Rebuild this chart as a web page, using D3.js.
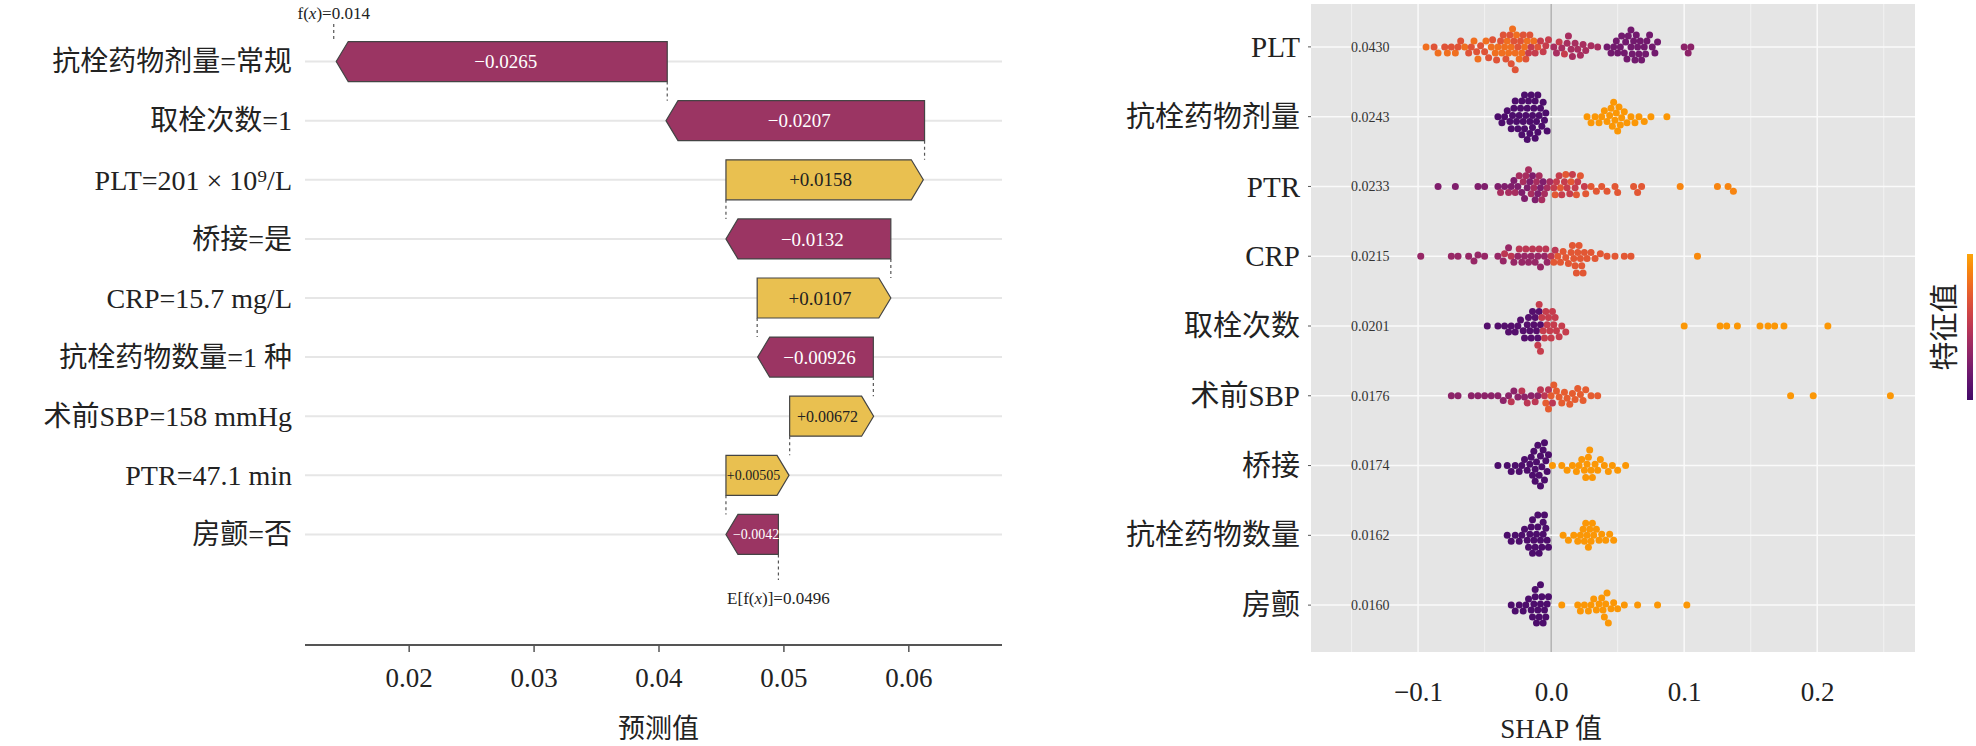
<!DOCTYPE html>
<html><head><meta charset="utf-8">
<script src="https://cdn.jsdelivr.net/npm/d3@7"></script>
<style>body{margin:0;background:#fff}text{font-family:"Liberation Serif","Noto Sans CJK SC",serif}</style>
</head><body><svg id="c" width="1976" height="746"></svg>
<script>
// waterfall data
const wfLabels = ["抗栓药物剂量=常规","取栓次数=1","PLT=201 × 10⁹/L","桥接=是","CRP=15.7 mg/L","抗栓药物数量=1 种","术前SBP=158 mmHg","PTR=47.1 min","房颤=否"]
const wfBase = [0.0407,0.0613,0.0454,0.0586,0.0479,0.0572,0.0505,0.0454,0.0496]
const wfValue = [-0.0265,-0.0207,0.0158,-0.0132,0.0107,-0.00926,0.00672,0.00505,-0.0042]
const wfText = ["−0.0265","−0.0207","+0.0158","−0.0132","+0.0107","−0.00926","+0.00672","+0.00505","−0.0042"]
const fx = 0.014, efx = 0.0496
const wfTicks = [0.02,0.03,0.04,0.05,0.06]

// beeswarm data: per feature, groups of [feature value, shap values]
const bsLabels = ["PLT","抗栓药物剂量","PTR","CRP","取栓次数","术前SBP","桥接","抗栓药物数量","房颤"]
const bsImportance = ["0.0430","0.0243","0.0233","0.0215","0.0201","0.0176","0.0174","0.0162","0.0160"]
const bsTicks = [-0.1,0,0.1,0.2]
const bsData = [
 [[0.8,[-0.094,-0.085,-0.078,-0.072,-0.065,-0.058,-0.055,-0.049,-0.045,-0.042,-0.04,-0.037,-0.035,-0.033,-0.032,-0.03,-0.029,-0.027,-0.026,-0.024,-0.022,-0.02,-0.018,-0.013]],
  [0.68,[-0.088,-0.08,-0.075,-0.07,-0.068,-0.062,-0.06,-0.056,-0.053,-0.05,-0.047,-0.044,-0.041,-0.038,-0.036,-0.034,-0.031,-0.03,-0.028,-0.027,-0.025,-0.023,-0.021,-0.019,-0.016,-0.01]],
  [0.55,[-0.017,-0.015,-0.012,-0.008,-0.006,-0.004,-0.002,0.006,0.01]],
  [0.42,[0.002,0.004,0.008,0.012,0.013,0.015,0.016,0.018,0.02,0.022,0.024,0.026,0.03,0.035]],
  [0.2,[0.042,0.045,0.047,0.049,0.05,0.052,0.053,0.055,0.056,0.057,0.058,0.06,0.06,0.061,0.062,0.063,0.064,0.065,0.066,0.067,0.068,0.07,0.071,0.072,0.074,0.076,0.078,0.08]],
  [0.3,[0.1,0.103,0.105]]],
 [[0.05,[-0.04,-0.037,-0.035,-0.033,-0.031,-0.03,-0.029,-0.028,-0.027,-0.026,-0.025,-0.024,-0.023,-0.022,-0.022,-0.021,-0.02,-0.02,-0.019,-0.018,-0.018,-0.017,-0.016,-0.016,-0.015,-0.014,-0.014,-0.013,-0.012,-0.012,-0.011,-0.01,-0.01,-0.009,-0.008,-0.007,-0.006,-0.005,-0.004,-0.003]],
  [0.95,[0.027,0.03,0.033,0.036,0.038,0.04,0.042,0.044,0.045,0.046,0.047,0.048,0.049,0.05,0.051,0.052,0.053,0.055,0.057,0.06,0.063,0.066,0.07,0.075,0.087]]],
 [[0.25,[-0.085,-0.072,-0.055,-0.05,-0.04,-0.035,-0.03,-0.028,-0.025,-0.022,-0.02,-0.018,-0.016,-0.014,-0.012,-0.01,-0.008,-0.006]],
  [0.42,[-0.038,-0.032,-0.027,-0.024,-0.021,-0.019,-0.017,-0.015,-0.013,-0.011,-0.009,-0.007,-0.005,-0.003,-0.001]],
  [0.55,[0.002,0.004,0.006,0.008,0.01,0.012,0.014,0.016,0.018,0.02,0.025]],
  [0.7,[0.003,0.007,0.011,0.015,0.019,0.022,0.026,0.03,0.034,0.038,0.042,0.048,0.05,0.062,0.065,0.068]],
  [0.88,[0.097,0.125,0.133,0.137]]],
 [[0.35,[-0.098,-0.075,-0.07,-0.062,-0.058,-0.055,-0.05,-0.04,-0.036,-0.032,-0.028,-0.025,-0.022,-0.02,-0.017,-0.015,-0.012,-0.01,-0.008,-0.005,-0.003]],
  [0.5,[-0.035,-0.03,-0.024,-0.019,-0.014,-0.009,-0.004,0,0.003]],
  [0.7,[0.002,0.005,0.007,0.009,0.011,0.013,0.015,0.016,0.017,0.018,0.019,0.02,0.021,0.022,0.023,0.024,0.025,0.027,0.03,0.033,0.037,0.042,0.048,0.055,0.06]],
  [0.9,[0.11]]],
 [[0.08,[-0.048,-0.04,-0.035,-0.032,-0.03,-0.027,-0.025,-0.023,-0.021,-0.02,-0.018,-0.017,-0.016,-0.015,-0.014,-0.013,-0.012,-0.011,-0.01,-0.009,-0.008]],
  [0.55,[-0.01,-0.009,-0.008,-0.007,-0.006,-0.005,-0.004,-0.003,-0.002,-0.001,0,0.001,0.002,0.003,0.004,0.006,0.008,0.011]],
  [0.95,[0.1,0.127,0.132,0.14,0.157,0.163,0.168,0.175,0.208]]],
 [[0.3,[-0.075,-0.07,-0.06,-0.055,-0.05,-0.045,-0.04,-0.036,-0.032,-0.028,-0.025,-0.02,-0.015,-0.01]],
  [0.5,[-0.03,-0.022,-0.018,-0.012,-0.008,-0.005,-0.002,0.001]],
  [0.72,[-0.004,-0.002,0,0.002,0.004,0.006,0.008,0.01,0.012,0.014,0.016,0.018,0.02,0.022,0.024,0.026,0.03,0.035]],
  [0.95,[0.18,0.197,0.255]]],
 [[0.05,[-0.04,-0.033,-0.03,-0.027,-0.024,-0.022,-0.02,-0.018,-0.016,-0.015,-0.014,-0.013,-0.012,-0.011,-0.01,-0.009,-0.008,-0.007,-0.006,-0.005,-0.004,-0.003,-0.002,-0.012,-0.008,-0.005]],
  [0.95,[0.001,0.008,0.012,0.016,0.019,0.021,0.023,0.025,0.026,0.027,0.028,0.029,0.03,0.031,0.033,0.035,0.037,0.04,0.043,0.046,0.05,0.056]]],
 [[0.05,[-0.033,-0.03,-0.027,-0.024,-0.022,-0.02,-0.018,-0.017,-0.016,-0.015,-0.014,-0.013,-0.012,-0.011,-0.01,-0.009,-0.008,-0.007,-0.006,-0.005,-0.004,-0.003,-0.002,-0.014,-0.01,-0.006]],
  [0.95,[0.009,0.013,0.017,0.02,0.022,0.024,0.025,0.026,0.027,0.028,0.029,0.03,0.031,0.032,0.034,0.036,0.038,0.041,0.044,0.047]]],
 [[0.05,[-0.03,-0.027,-0.024,-0.021,-0.019,-0.017,-0.015,-0.014,-0.013,-0.012,-0.011,-0.01,-0.009,-0.008,-0.007,-0.006,-0.005,-0.004,-0.003,-0.002,-0.012,-0.008]],
  [0.95,[0.008,0.02,0.022,0.025,0.028,0.03,0.032,0.034,0.036,0.038,0.039,0.04,0.041,0.042,0.043,0.045,0.047,0.05,0.055,0.065,0.08,0.102]]]
]

const svg = d3.select("#c")
const neg = "#9b3563", pos = "#e9c050"

// ---- left: waterfall ----
const x1 = d3.scaleLinear().domain([0.0117, 0.0675]).range([305, 1002])
const y1 = d3.scaleBand().domain(d3.range(wfLabels.length)).range([32, 564]).paddingInner(0)
const bh = 40
svg.append("g").selectAll("line").data(wfLabels).join("line")
  .attr("x1", 305).attr("x2", 1002)
  .attr("y1", (d, i) => y1(i) + y1.bandwidth() / 2).attr("y2", (d, i) => y1(i) + y1.bandwidth() / 2)
  .attr("stroke", "#e6e6e6").attr("stroke-width", 2)
svg.append("g").selectAll("text").data(wfLabels).join("text")
  .attr("x", 292).attr("y", (d, i) => y1(i) + y1.bandwidth() / 2).attr("dy", "0.35em")
  .attr("text-anchor", "end").attr("font-size", 28).attr("fill", "#222").text(d => d)

const tip = 12
wfValue.forEach((v, i) => {
  const cy = y1(i) + y1.bandwidth() / 2, t = cy - bh / 2, b = cy + bh / 2
  const xa = x1(wfBase[i]), xb = x1(wfBase[i] + v)
  const dir = v < 0 ? -1 : 1
  const pts = [[xa, t], [xb - dir * tip, t], [xb, cy], [xb - dir * tip, b], [xa, b]]
  svg.append("path").attr("d", d3.line()(pts) + "Z")
    .attr("fill", v < 0 ? neg : pos).attr("stroke", "#444").attr("stroke-width", 1.2)
  const w = Math.abs(xb - xa)
  svg.append("text").attr("x", (xa + xb) / 2 - dir * tip / 3).attr("y", cy).attr("dy", "0.35em")
    .attr("text-anchor", "middle").attr("font-size", w < 70 ? 14 : (w < 110 ? 16 : 19))
    .attr("fill", v < 0 ? "#fff" : "#222").text(wfText[i])
  // connector to next row
  const ny = i < wfValue.length - 1 ? y1(i + 1) + y1.bandwidth() / 2 - bh / 2 : 580
  svg.append("line").attr("x1", xa).attr("x2", xa).attr("y1", b).attr("y2", ny)
    .attr("stroke", "#555").attr("stroke-dasharray", "3,3").attr("stroke-width", 1.2)
})
svg.append("line").attr("x1", x1(fx)).attr("x2", x1(fx)).attr("y1", 24).attr("y2", y1(0) + y1.bandwidth() / 2 - bh / 2)
  .attr("stroke", "#555").attr("stroke-dasharray", "3,3").attr("stroke-width", 1.2)
const fl = svg.append("text").attr("x", x1(fx)).attr("y", 19).attr("text-anchor", "middle").attr("font-size", 17).attr("fill", "#222")
fl.append("tspan").text("f("); fl.append("tspan").attr("font-style", "italic").text("x"); fl.append("tspan").text(")=0.014")
const el = svg.append("text").attr("x", x1(efx)).attr("y", 604).attr("text-anchor", "middle").attr("font-size", 17).attr("fill", "#222")
el.append("tspan").text("E[f("); el.append("tspan").attr("font-style", "italic").text("x"); el.append("tspan").text(")]=0.0496")

const ax1 = svg.append("g").attr("transform", "translate(0,645)")
  .call(d3.axisBottom(x1).tickValues(wfTicks).tickSize(7).tickPadding(16).tickFormat(d3.format(".2f")))
ax1.select(".domain").attr("stroke", "#555").attr("stroke-width", 2).attr("d", "M305,0H1002")
ax1.selectAll(".tick line").attr("stroke", "#555").attr("stroke-width", 1.5)
ax1.selectAll("text").attr("font-size", 27).attr("fill", "#222").attr("font-family", "Liberation Serif")
svg.append("text").attr("x", x1(0.04)).attr("y", 738).attr("text-anchor", "middle").attr("font-size", 27).attr("fill", "#222").text("预测值")

// ---- right: beeswarm ----
const px0 = 1311, px1 = 1915, py0 = 4, py1 = 652
const x2 = d3.scaleLinear().domain([-0.1805, 0.2735]).range([px0, px1])
const y2 = d3.scaleBand().domain(d3.range(bsLabels.length)).range([12, 640])
svg.append("rect").attr("x", px0).attr("y", py0).attr("width", px1 - px0).attr("height", py1 - py0).attr("fill", "#e5e5e5")
const minor = [-0.15, -0.05, 0.05, 0.15, 0.25]
svg.append("g").selectAll("line").data(minor).join("line")
  .attr("x1", d => x2(d)).attr("x2", d => x2(d)).attr("y1", py0).attr("y2", py1).attr("stroke", "#f2f2f2").attr("stroke-width", 1)
svg.append("g").selectAll("line").data(bsTicks).join("line")
  .attr("x1", d => x2(d)).attr("x2", d => x2(d)).attr("y1", py0).attr("y2", py1)
  .attr("stroke", d => d === 0 ? "#999" : "#fafafa").attr("stroke-width", d => d === 0 ? 1 : 1.5)
svg.append("g").selectAll("line").data(bsLabels).join("line")
  .attr("x1", px0).attr("x2", px1)
  .attr("y1", (d, i) => y2(i) + y2.bandwidth() / 2).attr("y2", (d, i) => y2(i) + y2.bandwidth() / 2)
  .attr("stroke", "#fafafa").attr("stroke-width", 1.5)

const color = c => d3.interpolateInferno(0.2 + 0.6 * c)
const r = 3.5
bsData.forEach((groups, i) => {
  const cy = y2(i) + y2.bandwidth() / 2
  const pts = []
  groups.forEach(([c, xs]) => xs.forEach(v => pts.push({ v, c, x: x2(v) })))
  pts.sort((a, b) => a.x - b.x)
  const placed = []
  pts.forEach(p => {
    for (let k = 0; ; k++) {
      const off = (k % 2 ? 1 : -1) * Math.ceil(k / 2) * 1.2
      if (placed.every(q => (q.x - p.x) ** 2 + (q.y - off) ** 2 >= (1.85 * r) ** 2)) { p.y = off; break }
    }
    placed.push(p)
  })
  svg.append("g").selectAll("circle").data(placed).join("circle")
    .attr("cx", d => d.x).attr("cy", d => cy + d.y).attr("r", r).attr("fill", d => color(d.c))
  svg.append("text").attr("x", 1351).attr("y", cy).attr("dy", "0.35em").attr("font-size", 14).attr("fill", "#333").text(bsImportance[i])
  svg.append("text").attr("x", 1300).attr("y", cy).attr("dy", "0.35em").attr("text-anchor", "end")
    .attr("font-size", 29).attr("fill", "#222").text(bsLabels[i])
  svg.append("line").attr("x1", px0 - 3).attr("x2", px0).attr("y1", cy).attr("y2", cy).attr("stroke", "#555")
})
const ax2 = svg.append("g").attr("transform", `translate(0,${py1})`)
  .call(d3.axisBottom(x2).tickValues(bsTicks).tickSize(0).tickPadding(30).tickFormat(d => d === 0 ? "0.0" : d3.format(".1f")(d).replace("-", "−")))
ax2.select(".domain").remove()
ax2.selectAll("text").attr("font-size", 27).attr("fill", "#222").attr("font-family", "Liberation Serif")
svg.append("text").attr("x", x2(0)).attr("y", 738).attr("text-anchor", "middle").attr("font-size", 27).attr("fill", "#222").text("SHAP 值")

// colour bar
const grad = svg.append("defs").append("linearGradient").attr("id", "g").attr("x1", 0).attr("x2", 0).attr("y1", 1).attr("y2", 0)
d3.range(0, 1.01, 0.1).forEach(t => grad.append("stop").attr("offset", t).attr("stop-color", color(t)))
svg.append("rect").attr("x", 1967).attr("y", 254).attr("width", 6).attr("height", 146).attr("fill", "url(#g)")
svg.append("text").attr("transform", "translate(1955,327) rotate(-90)").attr("text-anchor", "middle")
  .attr("font-size", 29).attr("fill", "#222").text("特征值")
</script></body></html>
